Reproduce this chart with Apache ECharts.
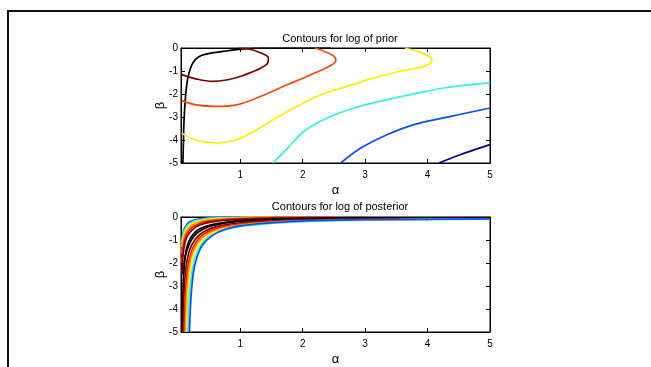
<!DOCTYPE html>
<html><head><meta charset="utf-8">
<script src="https://cdn.jsdelivr.net/npm/echarts@6/dist/echarts.min.js"></script>
<style>html,body{margin:0;padding:0;background:#fff}#c{width:651px;height:367px}</style>
</head><body><div id="c"></div>
<script>
// ---- data (alpha, beta) ----
const xTicks = [1, 2, 3, 4, 5];
const titles = ['Contours for log of prior', 'Contours for log of posterior'];

// prior contours
const priorBlack = [[0.08,-5],[0.09,-4],[0.096,-3.3],[0.12,-2.2],[0.16,-1.3],[0.24,-0.65],[0.35,-0.36],[0.53,-0.22],[0.8,-0.12],[1.06,-0.04],[1.33,0],[2.45,0]];
const priorDarkRed = [[0.06,-1.16],[0.3,-1.35],[0.55,-1.45],[0.8,-1.38],[1.01,-1.23],[1.2,-1.03],[1.33,-0.87],[1.44,-0.65],[1.45,-0.43],[1.33,-0.22],[1.12,-0.03],[0.98,0]];
const priorOrange = [[0.06,-2.29],[0.27,-2.46],[0.61,-2.54],[0.96,-2.46],[1.33,-2.1],[1.76,-1.59],[2.13,-1.16],[2.42,-0.8],[2.53,-0.55],[2.5,-0.36],[2.34,-0.14],[2.23,-0.03],[2.2,0]];
const priorYellow = [[0.06,-3.7],[0.27,-3.99],[0.61,-4.13],[1.01,-3.91],[1.44,-3.26],[1.86,-2.61],[2.29,-2.03],[2.71,-1.67],[3.14,-1.3],[3.56,-1.01],[3.94,-0.8],[4.07,-0.58],[4.02,-0.36],[3.83,-0.14],[3.64,0]];
const priorCyan = [[1.52,-5],[1.76,-4.35],[2.02,-3.62],[2.39,-3.04],[2.82,-2.61],[3.24,-2.32],[3.72,-2.03],[4.26,-1.74],[5,-1.52]];
const priorBlue = [[2.61,-5],[2.93,-4.35],[3.35,-3.77],[3.78,-3.33],[4.26,-3.04],[5,-2.61]];
const priorNavy = [[4.18,-5],[4.52,-4.64],[5,-4.2]];

// posterior contours
const postBlue1 = [[0.06,-0.96],[0.09,-0.6],[0.13,-0.38],[0.18,-0.23],[0.25,-0.14],[0.35,-0.08],[0.5,-0.04],[0.8,-0.01],[1.0,0]];
const postCyan1 = [[0.06,-1.1],[0.09,-0.7],[0.13,-0.45],[0.19,-0.28],[0.27,-0.17],[0.38,-0.1],[0.55,-0.05],[0.9,-0.02],[1.2,0]];
const postYellow1 = [[0.06,-1.3],[0.09,-0.82],[0.14,-0.52],[0.2,-0.33],[0.3,-0.2],[0.42,-0.12],[0.6,-0.07],[1.0,-0.03],[1.5,0]];
const postOrange1 = [[0.06,-1.6],[0.09,-0.98],[0.14,-0.62],[0.21,-0.4],[0.32,-0.24],[0.46,-0.15],[0.7,-0.09],[1.2,-0.04],[2.0,-0.01]];
const postRed1 = [[0.06,-2.0],[0.09,-1.2],[0.14,-0.75],[0.22,-0.47],[0.34,-0.29],[0.5,-0.18],[0.8,-0.1],[1.4,-0.05],[2.5,-0.02]];
const postDarkRed1 = [[0.065,-2.5],[0.09,-1.5],[0.14,-0.9],[0.23,-0.56],[0.36,-0.34],[0.55,-0.21],[0.9,-0.12],[1.6,-0.06],[3,-0.03]];
const postBlack1 = [[0.075,-5],[0.08,-3.4],[0.1,-2.1],[0.14,-1.35],[0.2,-0.92],[0.3,-0.6],[0.45,-0.4],[0.7,-0.25],[1.1,-0.14],[2,-0.07],[3.5,-0.04],[5,-0.03]];
const postBlack2 = [[0.09,-2.5],[0.12,-1.7],[0.18,-1.2],[0.26,-0.82],[0.4,-0.53],[0.6,-0.34],[0.95,-0.2],[1.6,-0.11],[3,-0.06]];
const postDarkRed2 = [[0.085,-5],[0.1,-3.2],[0.13,-2.2],[0.18,-1.5],[0.27,-1.0],[0.4,-0.66],[0.62,-0.42],[1.0,-0.25],[1.8,-0.14],[3,-0.09],[5,-0.06]];
const postRed2 = [[0.1,-5],[0.12,-3.4],[0.15,-2.4],[0.2,-1.65],[0.29,-1.1],[0.42,-0.73],[0.65,-0.47],[1.05,-0.29],[2,-0.15],[3.5,-0.1],[5,-0.08]];
const postOrange2 = [[0.12,-5],[0.14,-3.45],[0.17,-2.45],[0.22,-1.7],[0.31,-1.15],[0.45,-0.78],[0.68,-0.51],[1.08,-0.32],[2,-0.17],[3.5,-0.11],[5,-0.08]];
const postYellow2 = [[0.14,-5],[0.16,-3.5],[0.19,-2.5],[0.24,-1.75],[0.33,-1.2],[0.47,-0.82],[0.7,-0.55],[1.1,-0.35],[2,-0.19],[3.5,-0.12],[5,-0.09]];
const postCyan2 = [[0.165,-5],[0.18,-3.6],[0.22,-2.5],[0.27,-1.8],[0.36,-1.25],[0.5,-0.86],[0.73,-0.58],[1.1,-0.38],[2,-0.2],[3.5,-0.12],[5,-0.09]];
const postBlue2 = [[0.185,-5],[0.21,-3.5],[0.25,-2.4],[0.3,-1.8],[0.39,-1.24],[0.55,-0.81],[0.77,-0.52],[1.09,-0.35],[2,-0.17],[3,-0.12],[5,-0.08]];

const C = {navy:'#00008c', blue:'#0050ff', cyan:'#30f0e8', yellow:'#f8f000', orange:'#ff8c00', redor:'#ff4810', red:'#ff1000', darkred:'#800000', black:'#000000'};

const priorSet = [
  [priorBlack, C.black], [priorDarkRed, C.darkred], [priorOrange, C.redor], [priorYellow, C.yellow],
  [priorCyan, C.cyan], [priorBlue, C.blue], [priorNavy, C.navy]
];
const postSet = [
  [postBlue1, C.blue], [postCyan1, C.cyan], [postYellow1, C.yellow], [postOrange1, C.orange], [postRed1, C.red], [postDarkRed1, C.darkred],
  [postBlack1, C.black], [postBlack2, C.black], [postDarkRed2, C.darkred], [postRed2, C.red], [postOrange2, C.orange],
  [postYellow2, C.yellow], [postCyan2, C.cyan], [postBlue2, C.blue]
];

const FONT = "'Liberation Sans Narrow','Liberation Sans',Arial,sans-serif";
const grids = [
  {left:181, width:309, top:48, height:115, show:true, borderColor:'#000', borderWidth:1},
  {left:181, width:309, top:217, height:115, show:true, borderColor:'#000', borderWidth:1}
];
const xAxes = [], yAxes = [];
[0,1].forEach(g => {
  xAxes.push({type:'value', gridIndex:g, min:0.05, max:5, position:'bottom',
    name:'α', nameLocation:'middle', nameGap:21, nameTextStyle:{fontFamily:FONT, fontSize:13, color:'#000'},
    axisLine:{show:true, onZero:false, lineStyle:{color:'#000'}},
    axisTick:{show:true, inside:true, length:4, customValues:xTicks, lineStyle:{color:'#000'}},
    axisLabel:{show:true, customValues:xTicks, fontFamily:FONT, fontSize:10, color:'#000', margin:7},
    splitLine:{show:false}});
  xAxes.push({type:'value', gridIndex:g, min:0.05, max:5, position:'top',
    axisLine:{show:true, onZero:false, lineStyle:{color:'#000'}},
    axisTick:{show:true, inside:true, length:4, customValues:xTicks, lineStyle:{color:'#000'}},
    axisLabel:{show:false}, splitLine:{show:false}});
  yAxes.push({type:'value', gridIndex:g, min:-5, max:0, interval:1, position:'left',
    name:'β', nameLocation:'middle', nameGap:14, nameMoveOverlap:false, nameRotate:90, nameTextStyle:{fontFamily:FONT, fontSize:13, color:'#000'},
    axisLine:{show:true, onZero:false, lineStyle:{color:'#000'}},
    axisTick:{show:true, inside:true, length:4, lineStyle:{color:'#000'}},
    axisLabel:{show:true, fontFamily:FONT, fontSize:10, color:'#000', margin:3},
    splitLine:{show:false}});
  yAxes.push({type:'value', gridIndex:g, min:-5, max:0, interval:1, position:'right',
    axisLine:{show:true, onZero:false, lineStyle:{color:'#000'}},
    axisTick:{show:true, inside:true, length:4, lineStyle:{color:'#000'}},
    axisLabel:{show:false}, splitLine:{show:false}});
});

const series = [];
priorSet.forEach(([d,col]) => series.push({type:'line', xAxisIndex:0, yAxisIndex:0, data:d, showSymbol:false, symbol:'none', smooth:0.35, lineStyle:{color:col, width:1.7}, silent:true, animation:false}));
postSet.forEach(([d,col]) => series.push({type:'line', xAxisIndex:2, yAxisIndex:2, data:d, showSymbol:false, symbol:'none', smooth:0.35, lineStyle:{color:col, width:1.7}, silent:true, animation:false}));

const chart = echarts.init(document.getElementById('c'), null, {renderer:'canvas'});
chart.setOption({
  animation:false,
  backgroundColor:'#fff',
  title: [
    {text:titles[0], left:335, top:28, textAlign:'center', textStyle:{fontFamily:FONT, fontSize:11, fontWeight:'normal', color:'#000'}},
    {text:titles[1], left:335, top:196, textAlign:'center', textStyle:{fontFamily:FONT, fontSize:11, fontWeight:'normal', color:'#000'}}
  ],
  grid: grids, xAxis: xAxes, yAxis: yAxes, series: series,
  graphic: [{type:'rect', shape:{x:8, y:11, width:700, height:420}, style:{fill:'none', stroke:'#111', lineWidth:2}, silent:true}]
});
</script></body></html>
